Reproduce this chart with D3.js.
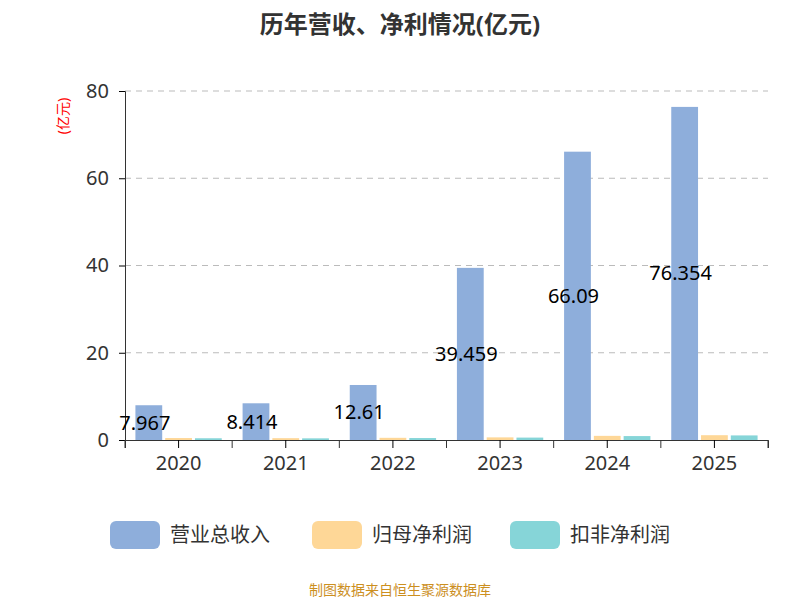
<!DOCTYPE html>
<html><head><meta charset="utf-8">
<script src="https://cdn.jsdelivr.net/npm/d3@7"></script>
<style>body{margin:0;background:#fff}text{font-family:"Noto Sans","Noto Sans CJK SC",sans-serif}</style>
</head><body>
<div class="board"></div>
<script>
var width = 800, height = 600;
var years = ['2020', '2021', '2022', '2023', '2024', '2025'];
var revenue = [7.967, 8.414, 12.61, 39.459, 66.09, 76.354];
var netProfit = [0.45, 0.42, 0.5, 0.6, 0.95, 1.1];
var deductedProfit = [0.4, 0.38, 0.45, 0.55, 0.9, 1.05];
var seriesNames = ['营业总收入', '归母净利润', '扣非净利润'];
var colors = ['#8eaedb', '#fed797', '#86d5d8'];
var yTicks = [0, 20, 40, 60, 80];

var svg = d3.select('.board').append('svg').attr('width', width).attr('height', height);

var x = d3.scaleBand().domain(years).range([125, 768]);
var y = d3.scaleLinear().domain([0, 80]).range([440, 91]);

svg.append('text').attr('x', 400).attr('y', 33).attr('text-anchor', 'middle')
   .attr('font-size', 24).attr('font-weight', 'bold').attr('fill', '#333').text('历年营收、净利情况(亿元)');

svg.selectAll('.grid').data(yTicks.slice(1)).enter().append('line')
   .attr('x1', 125).attr('x2', 768).attr('y1', y).attr('y2', y)
   .attr('stroke', '#bbb').attr('stroke-dasharray', '6,5');

var yAxis = svg.append('g').attr('transform', 'translate(125,0)')
   .call(d3.axisLeft(y).tickValues(yTicks).tickSize(6).tickPadding(10));
yAxis.select('.domain').attr('stroke', '#333');
yAxis.selectAll('text').attr('font-size', 20).attr('fill', '#333');

var xAxis = svg.append('g').attr('transform', 'translate(0,440)')
   .call(d3.axisBottom(x).tickSizeOuter(0).tickSize(8).tickPadding(8));
xAxis.select('.domain').attr('stroke', '#333');
xAxis.selectAll('text').attr('font-size', 20).attr('fill', '#333');
svg.append('g').selectAll('line').data(years).enter().append('line')
   .attr('x1', function(d) { return x(d); }).attr('x2', function(d) { return x(d); })
   .attr('y1', 440).attr('y2', 448).attr('stroke', '#333');
svg.append('line').attr('x1', 768).attr('x2', 768).attr('y1', 440).attr('y2', 448).attr('stroke', '#333');

svg.append('text').attr('transform', 'translate(68,116) rotate(-90)').attr('text-anchor', 'middle')
   .attr('font-size', 14).attr('fill', 'red').text('(亿元)');

var inner = d3.scaleBand().domain([0, 1, 2]).range([0, x.bandwidth()]).paddingInner(0.1).paddingOuter(0.35);
var allSeries = [revenue, netProfit, deductedProfit];
allSeries.forEach(function(vals, si) {
  svg.append('g').selectAll('rect').data(vals).enter().append('rect')
     .attr('x', function(d, i) { return x(years[i]) + inner(si); })
     .attr('width', inner.bandwidth())
     .attr('y', function(d) { return y(d); })
     .attr('height', function(d) { return 440 - y(d); })
     .attr('fill', colors[si]);
});

svg.append('g').selectAll('text').data(revenue).enter().append('text')
   .attr('x', function(d, i) { return x(years[i]) + inner(0) + inner.bandwidth() / 2 - 4; })
   .attr('y', function(d) { return (y(d) + 440) / 2; })
   .attr('dy', '0.35em').attr('text-anchor', 'middle').attr('font-size', 20).attr('fill', '#000')
   .text(function(d) { return d; });

var legendX = [110, 312, 510];
var lg = svg.append('g').selectAll('g').data(seriesNames).enter().append('g')
   .attr('transform', function(d, i) { return 'translate(' + legendX[i] + ',521)'; });
lg.append('rect').attr('width', 50).attr('height', 28).attr('rx', 6).attr('fill', function(d, i) { return colors[i]; });
lg.append('text').attr('x', 60).attr('y', 14).attr('dy', '0.35em').attr('font-size', 20).attr('fill', '#333').text(function(d) { return d; });

svg.append('text').attr('x', 400).attr('y', 595).attr('text-anchor', 'middle')
   .attr('font-size', 14).attr('fill', '#cc8f1f').text('制图数据来自恒生聚源数据库');
</script>
</body></html>
